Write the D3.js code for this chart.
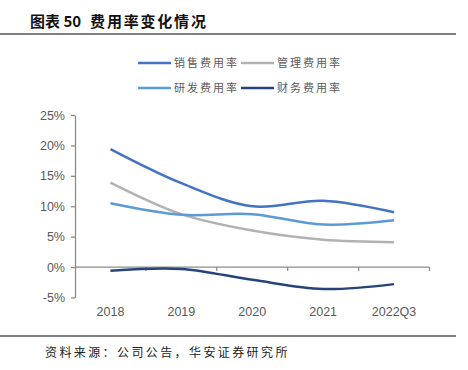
<!DOCTYPE html>
<html>
<head>
<meta charset="utf-8">
<script src="https://cdn.jsdelivr.net/npm/d3@7"></script>
<style>
  body { margin: 0; background: #fff; }
  svg { font-family: "Liberation Sans", Arial, sans-serif; }
  .cjk { font-family: "Noto Sans CJK SC", sans-serif; }
</style>
</head>
<body>
<svg width="468" height="370"></svg>
<script>
const years = ["2018", "2019", "2020", "2021", "2022Q3"];
const seriesNames = ["销售费用率", "管理费用率", "研发费用率", "财务费用率"];
const seriesColors = ["#4472C4", "#B2B2B2", "#5B9BD5", "#264478"];
const sales = [19.4, 13.8, 10.0, 10.9, 9.0];
const admin = [13.9, 8.7, 6.0, 4.5, 4.1];
const rnd = [10.5, 8.6, 8.7, 7.0, 7.7];
const fin = [-0.6, -0.3, -2.1, -3.6, -2.8];
const yTicks = [-5, 0, 5, 10, 15, 20, 25];

const values = [sales, admin, rnd, fin];

const svg = d3.select("svg");

// title
const title = svg.append("text")
  .attr("x", 30).attr("y", 27)
  .attr("class", "cjk")
  .attr("font-size", 15).attr("font-weight", "bold")
  .attr("fill", "#111");
title.append("tspan").text("图表 50");
title.append("tspan").attr("dx", 9).attr("letter-spacing", 1.8).text("费用率变化情况");

svg.append("line")
  .attr("x1", 0).attr("x2", 456)
  .attr("y1", 34).attr("y2", 34)
  .attr("stroke", "#555").attr("stroke-width", 1.5);

svg.append("line")
  .attr("x1", 0).attr("x2", 456)
  .attr("y1", 336).attr("y2", 336)
  .attr("stroke", "#555").attr("stroke-width", 1.5);

svg.append("text")
  .attr("x", 45).attr("y", 357)
  .attr("class", "cjk")
  .attr("font-size", 12).attr("fill", "#222")
  .attr("letter-spacing", 2.4)
  .text("资料来源：公司公告，华安证券研究所");

const x = d3.scaleBand()
  .domain(years)
  .range([75, 429.5]);

const y = d3.scaleLinear()
  .domain([-5, 25])
  .range([297.5, 115]);

// y axis
const yAxis = svg.append("g")
  .attr("transform", "translate(75,0)")
  .call(d3.axisLeft(y)
    .tickValues(yTicks)
    .tickFormat(d => d + "%")
    .tickSize(4)
    .tickSizeOuter(0));
yAxis.select(".domain").attr("stroke", "#8c8c8c").attr("stroke-width", 1.3);
yAxis.selectAll(".tick line").attr("stroke", "#8c8c8c").attr("stroke-width", 1.3);
yAxis.selectAll(".tick text")
  .attr("x", -10)
  .attr("font-size", 12.5).attr("fill", "#595959")
  .attr("font-family", "Liberation Sans, Arial, sans-serif");

// x axis at zero
const xAxis = svg.append("g")
  .attr("transform", "translate(0," + y(0) + ")");
xAxis.append("line")
  .attr("x1", 75).attr("x2", 429.5)
  .attr("stroke", "#8c8c8c").attr("stroke-width", 1.3);
xAxis.selectAll("line.tk")
  .data(years)
  .enter()
  .append("line")
  .attr("class", "tk")
  .attr("x1", d => x(d) + x.bandwidth())
  .attr("x2", d => x(d) + x.bandwidth())
  .attr("y1", 0).attr("y2", 4)
  .attr("stroke", "#8c8c8c").attr("stroke-width", 1.3);

svg.append("g")
  .selectAll("text")
  .data(years)
  .enter()
  .append("text")
  .attr("x", d => x(d) + x.bandwidth() / 2)
  .attr("y", 316)
  .attr("text-anchor", "middle")
  .attr("font-size", 12.5).attr("fill", "#595959")
  .text(d => d);

// lines
const line = d3.line()
  .x((d, i) => x(years[i]) + x.bandwidth() / 2)
  .y(d => y(d))
  .curve(d3.curveCatmullRom.alpha(0.5));

svg.append("g")
  .selectAll("path")
  .data(values)
  .enter()
  .append("path")
  .attr("d", d => line(d))
  .attr("fill", "none")
  .attr("stroke", (d, i) => seriesColors[i])
  .attr("stroke-width", 2.5);

// legend
const legendPos = [[138, 63], [241, 63], [138, 88], [241, 88]];
const legend = svg.append("g")
  .selectAll("g")
  .data(seriesNames)
  .enter()
  .append("g")
  .attr("transform", (d, i) => "translate(" + legendPos[i][0] + "," + legendPos[i][1] + ")");
legend.append("line")
  .attr("x1", 0).attr("x2", 33)
  .attr("stroke", (d, i) => seriesColors[i])
  .attr("stroke-width", 2.5);
legend.append("text")
  .attr("x", 36).attr("y", 4)
  .attr("class", "cjk")
  .attr("font-size", 11).attr("fill", "#595959")
  .attr("letter-spacing", 2)
  .text(d => d);
</script>
</body>
</html>
